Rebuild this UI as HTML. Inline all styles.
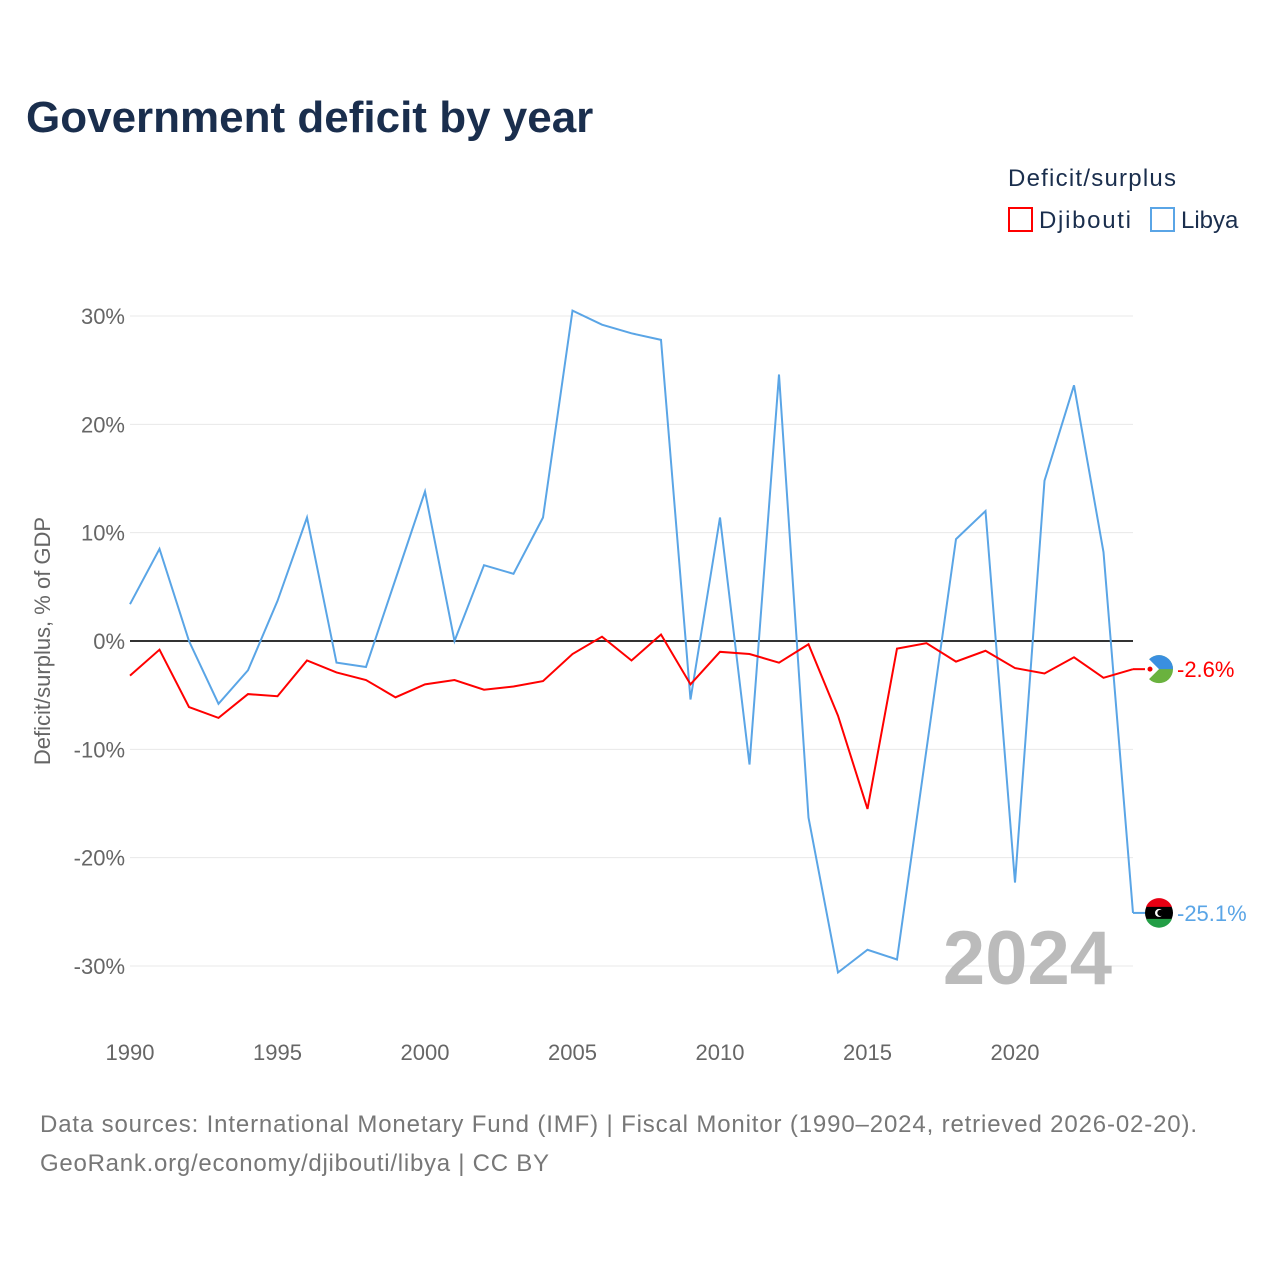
<!DOCTYPE html>
<html><head><meta charset="utf-8"><style>
body{margin:0;background:#fff;font-family:"Liberation Sans",sans-serif;}
svg text{font-family:"Liberation Sans",sans-serif;}
</style></head><body>
<svg width="1280" height="1280">
<text x="26" y="132" font-size="44" font-weight="bold" fill="#1a2e4d">Government deficit by year</text>
<text x="1008" y="186" font-size="24" fill="#1a2e4d" textLength="168" lengthAdjust="spacing">Deficit/surplus</text>
<g><rect x="1009" y="208" width="23" height="23" fill="none" stroke="#f00" stroke-width="2"/><text x="1039" y="228" font-size="24" fill="#1a2e4d" textLength="92" lengthAdjust="spacing">Djibouti</text></g>
<g><rect x="1151" y="208" width="23" height="23" fill="none" stroke="#5aa5e6" stroke-width="2"/><text x="1181" y="228" font-size="24" fill="#1a2e4d">Libya</text></g>
<text transform="translate(50,641) rotate(-90)" text-anchor="middle" font-size="22" fill="#666">Deficit/surplus, % of GDP</text>
<g id="grid"></g><g id="ticks"></g>
<text x="1112" y="984" text-anchor="end" font-size="76" font-weight="bold" fill="#bbb">2024</text>
<g id="lines"></g>
<text x="40" y="1132" font-size="24" fill="#777" textLength="1157" lengthAdjust="spacing">Data sources: International Monetary Fund (IMF) | Fiscal Monitor (1990–2024, retrieved 2026-02-20).</text>
<text x="40" y="1171" font-size="24" fill="#777" textLength="509" lengthAdjust="spacing">GeoRank.org/economy/djibouti/libya | CC BY</text>
</svg>
<script>
const years=[];for(let y=1990;y<=2024;y++)years.push(y);
const libya=[3.4,8.5,0,-5.8,-2.7,3.7,11.4,-2.0,-2.4,5.7,13.8,0,7.0,6.2,11.4,30.5,29.2,28.4,27.8,-5.4,11.4,-11.4,24.6,-16.3,-30.6,-28.5,-29.4,-10,9.4,12.0,-22.3,14.8,23.6,8.2,-25.1];
const djibouti=[-3.2,-0.8,-6.1,-7.1,-4.9,-5.1,-1.8,-2.9,-3.6,-5.2,-4.0,-3.6,-4.5,-4.2,-3.7,-1.2,0.4,-1.8,0.6,-4.0,-1.0,-1.2,-2.0,-0.3,-6.9,-15.5,-0.7,-0.2,-1.9,-0.9,-2.5,-3.0,-1.5,-3.4,-2.6];
const yTicks=[30,20,10,0,-10,-20,-30];
const xTicks=[1990,1995,2000,2005,2010,2015,2020];
const NS='http://www.w3.org/2000/svg';
const X=v=>130+(v-1990)*(1133-130)/34;
const Y=v=>641-v*10.833;
function mk(t,a,p){const e=document.createElementNS(NS,t);for(const k in a)e.setAttribute(k,a[k]);p.appendChild(e);return e;}
const grid=document.getElementById('grid'),ticks=document.getElementById('ticks'),lines=document.getElementById('lines');
yTicks.forEach(v=>{const l=mk('line',{x1:130,x2:1133,y1:Y(v),y2:Y(v),stroke:v==0?'#333':'#e8e8e8','stroke-width':v==0?2:1},grid);


const t=mk('text',{x:125,y:Y(v)+8,'text-anchor':'end','font-size':22,fill:'#666'},ticks);t.textContent=v+'%';

});
xTicks.forEach(v=>{const t=mk('text',{x:X(v),y:1060,'text-anchor':'middle','font-size':22,fill:'#666'},ticks);t.textContent=v;

});
function series(d,c,name){const p=mk('polyline',{points:d.map((v,i)=>X(years[i])+','+Y(v)).join(' '),fill:'none',stroke:c,'stroke-width':2},lines);


const last=d[d.length-1],ly=Y(last);
mk('line',{x1:X(2024),x2:1145,y1:ly,y2:ly,stroke:c,'stroke-width':2},lines);
const t=mk('text',{x:1177,y:ly+8,'font-size':22,fill:c},lines);t.textContent=last.toFixed(1)+'%';

}
series(libya,'#5aa5e6','libya');series(djibouti,'#f00','djibouti');
let fy=Y(djibouti[34]);
const g1=mk('g',{},lines);
mk('circle',{cx:1159,cy:fy,r:14,fill:'#6ab23e'},g1);mk('path',{d:`M1145 ${fy} A14 14 0 0 1 1173 ${fy} Z`,fill:'#3a8fe0'},g1);
mk('path',{d:`M1145 ${fy-14} L1159 ${fy} L1145 ${fy+14} Z`,fill:'#fff'},g1);mk('circle',{cx:1150,cy:fy,r:2.5,fill:'#e00'},g1);
fy=Y(libya[34]);
const g2=mk('g',{},lines);
mk('circle',{cx:1159,cy:fy,r:14,fill:'#000'},g2);mk('path',{d:`M1146 ${fy-6} A14 14 0 0 1 1172 ${fy-6} Z`,fill:'#e70013'},g2);
mk('path',{d:`M1146 ${fy+6} A14 14 0 0 0 1172 ${fy+6} Z`,fill:'#239e46'},g2);mk('circle',{cx:1159,cy:fy,r:4,fill:'#fff'},g2);mk('circle',{cx:1160.5,cy:fy,r:3.2,fill:'#000'},g2);
</script>
</body></html>
